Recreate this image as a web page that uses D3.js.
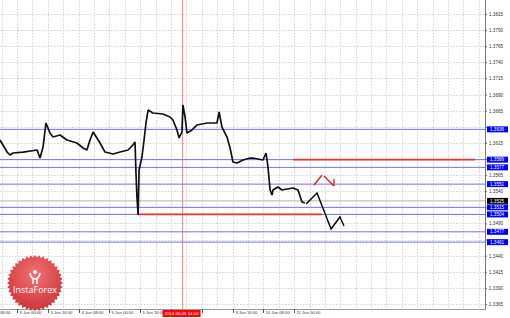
<!DOCTYPE html>
<html>
<head>
<meta charset="utf-8">
<script src="https://cdn.jsdelivr.net/npm/d3@7"></script>
<style>
  body { margin: 0; background: #fff; }
  svg { display: block; font-family: "Liberation Sans", Arial, sans-serif; }
</style>
</head>
<body>
<div id="chart"></div>
<script>
// H1 bars, index 0 = 2 Jun 08:00 (weekend hours skipped)
const priceIdx = [7.1, 10.8, 12.3, 13.9, 19.1, 26.4, 27.9, 29.5, 31.0, 33.1, 34.7, 38.3, 41.9, 47.1, 50.3, 52.3,
  53.9, 55.5, 57.5, 59.1, 61.7, 65.9, 69.5, 73.7, 76.2, 77.3, 77.8, 78.3, 78.9, 79.4, 80.9, 82.0, 83.0, 84.1,
  86.6, 91.8, 95.5, 97.0, 99.1, 100.2, 101.7, 102.2, 103.3, 104.3, 106.9, 109.5, 114.7, 119.9, 121.0, 122.5,
  125.1, 126.7, 128.2, 130.3, 133.4, 137.1, 138.6, 143.8, 145.4, 146.4, 147.5, 148.5, 149.0, 151.6, 153.7,
  156.3, 159.4, 162.0, 164.1, 165.6];
const priceVal = [1.36195, 1.36008, 1.35962, 1.35993, 1.36008, 1.36040, 1.35915, 1.36086, 1.36459, 1.36303,
  1.36241, 1.36272, 1.36195, 1.36148, 1.36071, 1.36040, 1.36195, 1.36319, 1.36226, 1.36148, 1.36008, 1.35977,
  1.36008, 1.36040, 1.36117, 1.36164, 1.35683, 1.35310, 1.35031, 1.35729, 1.35931, 1.36195, 1.36459, 1.36660,
  1.36614, 1.36598, 1.36552, 1.36505, 1.36350, 1.36226, 1.36319, 1.36738, 1.36552, 1.36303, 1.36350, 1.36428,
  1.36459, 1.36459, 1.36629, 1.36396, 1.36241, 1.36071, 1.35853, 1.35838, 1.35884, 1.35915, 1.35915, 1.35884,
  1.35993, 1.35776, 1.35419, 1.35341, 1.35419, 1.35465, 1.35419, 1.35434, 1.35450, 1.35419, 1.35233, 1.35217];

// forecast paths drawn on the chart
const forecastIdx = [166.2, 171.9, 179.2, 183.8, 185.9];
const forecastVal = [1.35202, 1.35372, 1.34814, 1.35000, 1.34860];
const redMarkIdx = [170.3, 174.5];
const redMarkVal = [1.35496, 1.35652];
const redMark2Idx = [175.5, 180.7];
const redMark2Val = [1.35636, 1.35481];

// horizontal levels
const blueLevels = [1.3636, 1.3589, 1.3577, 1.3551, 1.3515, 1.3504, 1.3477, 1.3461];
const grayLevels = [1.3525];
const redLevels = [1.3589, 1.3504];
const redFrom = [159.4, 78.9];
const redTo = [254.0, 174.5];

// axes
const priceTicks = [1.3815, 1.3790, 1.3765, 1.3740, 1.3715, 1.3690, 1.3665, 1.3640, 1.3615, 1.3590, 1.3565,
  1.3540, 1.3515, 1.3490, 1.3465, 1.3440, 1.3415, 1.3390, 1.3365];
const timeIdx = [0, 16, 32, 48, 64, 80, 96, 112, 128, 144, 160];
const timeLabels = ["2 Jun 08:00", "3 Jun 00:00", "3 Jun 16:00", "4 Jun 08:00", "5 Jun 00:00", "5 Jun 16:00",
  "6 Jun 08:00", "9 Jun 00:00", "9 Jun 16:00", "10 Jun 08:00", "11 Jun 00:00"];
const gridIdx = d3.range(0, 264, 8);
const markerIdx = 102;
const markerLabel = "2014.06.06 14:00";

const W = 510, H = 318;
const plotR = 485, plotB = 309;

const svg = d3.select("#chart").append("svg")
    .attr("width", W)
    .attr("height", H);

const x = d3.scaleLinear().domain([0, 260]).range([-13.7, -13.7 + 260 * 1.924]);
const y = d3.scaleLinear().domain([1.3365, 1.3815]).range([304, 14]);

svg.append("defs").append("clipPath").attr("id", "plot")
  .append("rect").attr("x", 0).attr("y", 0).attr("width", plotR).attr("height", plotB);

const g = svg.append("g").attr("clip-path", "url(#plot)");

// grid
g.selectAll(".hg").data(priceTicks).enter().append("line")
    .attr("x1", 0).attr("x2", plotR)
    .attr("y1", d => Math.round(y(d)) + 0.5).attr("y2", d => Math.round(y(d)) + 0.5)
    .attr("stroke", "#d4d4d4").attr("stroke-dasharray", "1.5,1.5");
g.selectAll(".vg").data(gridIdx).enter().append("line")
    .attr("y1", 0).attr("y2", plotB)
    .attr("x1", d => Math.round(x(d)) + 0.5).attr("x2", d => Math.round(x(d)) + 0.5)
    .attr("stroke", "#d4d4d4").attr("stroke-dasharray", "1.5,1.5");

// marker line
g.append("line")
    .attr("x1", x(markerIdx)).attr("x2", x(markerIdx))
    .attr("y1", 0).attr("y2", plotB)
    .attr("stroke", "#ff9090").attr("stroke-width", 1.2);

// levels
g.selectAll(".gl").data(grayLevels).enter().append("line")
    .attr("x1", 0).attr("x2", plotR)
    .attr("y1", d => y(d)).attr("y2", d => y(d))
    .attr("stroke", "#b4b4b4").attr("stroke-width", 1);
g.selectAll(".bl").data(blueLevels).enter().append("line")
    .attr("x1", 0).attr("x2", plotR)
    .attr("y1", d => y(d)).attr("y2", d => y(d))
    .attr("stroke", "#7070f0").attr("stroke-width", 1);
g.selectAll(".rl").data(redLevels).enter().append("line")
    .attr("x1", (d, i) => x(redFrom[i])).attr("x2", (d, i) => x(redTo[i]))
    .attr("y1", d => y(d)).attr("y2", d => y(d))
    .attr("stroke", "#e03838").attr("stroke-width", 1.8);

// price
const line = d3.line().x(d => x(d[0])).y(d => y(d[1]));
g.append("path")
    .datum(priceIdx.map((d, i) => [d, priceVal[i]]))
    .attr("fill", "none")
    .attr("stroke", "#111")
    .attr("stroke-width", 1.7)
    .attr("stroke-linejoin", "bevel")
    .attr("d", line);

// forecast
g.append("path")
    .datum(forecastIdx.map((d, i) => [d, forecastVal[i]]))
    .attr("fill", "none").attr("stroke", "#000").attr("stroke-width", 1.4)
    .attr("d", line);
[[redMarkIdx, redMarkVal], [redMark2Idx, redMark2Val]].forEach(([xs, vs]) => {
  g.append("path")
      .datum(xs.map((d, i) => [d, vs[i]]))
      .attr("fill", "none").attr("stroke", "#e02020").attr("stroke-width", 1.4)
      .attr("d", line);
});
// arrow tip on the red mark
const tipX = x(redMark2Idx[1]), tipY = y(redMark2Val[1]);
g.append("path")
    .attr("d", `M${tipX},${tipY} L${tipX},${tipY - 7}`)
    .attr("stroke", "#e02020").attr("stroke-width", 1.4).attr("fill", "none");

// frame
svg.append("line").attr("x1", plotR + 0.5).attr("x2", plotR + 0.5).attr("y1", 0).attr("y2", plotB + 0.5)
    .attr("stroke", "#777");
svg.append("line").attr("x1", 0).attr("x2", plotR + 0.5).attr("y1", plotB + 0.5).attr("y2", plotB + 0.5)
    .attr("stroke", "#999");

// right axis (tick text hidden where a level tag sits on top)
const tagged = blueLevels.concat(grayLevels);
const yAxis = svg.append("g")
    .attr("transform", `translate(${plotR},0)`)
    .call(d3.axisRight(y).tickValues(priceTicks).tickFormat(d3.format(".4f")).tickSize(2).tickPadding(2));
yAxis.select(".domain").remove();
yAxis.selectAll("line").attr("stroke", "#666");
yAxis.selectAll("text").attr("font-size", 4.6).attr("fill", "#333")
    .filter(d => tagged.some(v => Math.abs(y(v) - y(d)) < 6)).remove();

// highlighted level labels
const tags = blueLevels.map(v => ({ v, c: "#0000ff" })).concat(grayLevels.map(v => ({ v, c: "#000" })));
const tag = svg.selectAll(".tag").data(tags).enter().append("g")
    .attr("transform", d => `translate(${plotR + 2},${y(d.v)})`);
tag.append("rect").attr("x", 0).attr("y", -3).attr("width", 21).attr("height", 6).attr("fill", d => d.c);
tag.append("text").attr("x", 3).attr("y", 0).attr("dy", "0.35em")
    .attr("font-size", 4.6).attr("fill", "#fff")
    .text(d => d3.format(".4f")(d.v));

// bottom axis
const mx = x(markerIdx);
const xAxis = svg.append("g").attr("transform", `translate(0,${plotB})`);
timeIdx.forEach((t, i) => {
  const px = Math.round(x(t)) + 0.5;
  xAxis.append("line").attr("x1", px).attr("x2", px).attr("y1", 0).attr("y2", 4).attr("stroke", "#555");
  if (Math.abs(px - mx) < 22) return; // covered by the marker's date box
  xAxis.append("text").attr("x", px + 2).attr("y", 5.3)
      .attr("font-size", 4.2).attr("fill", "#333")
      .text(timeLabels[i]);
});
xAxis.append("rect").attr("x", mx - 20).attr("y", 1).attr("width", 38).attr("height", 7).attr("fill", "#ff0000");
xAxis.append("text").attr("x", mx - 1).attr("y", 6.2).attr("text-anchor", "middle")
    .attr("font-size", 4.4).attr("fill", "#fff").text(markerLabel);

// InstaForex badge
const cx = 35, cy = 283, rOut = 28, rIn = 25.5, teeth = 40;
const badgePts = d3.range(teeth * 2).map(k => {
  const a = k * Math.PI / teeth;
  const r = k % 2 ? rIn : rOut;
  return [cx + r * Math.cos(a), cy + r * Math.sin(a)];
});
const grad = svg.select("defs").append("radialGradient").attr("id", "badge")
    .attr("cx", "50%").attr("cy", "35%").attr("r", "65%");
grad.append("stop").attr("offset", "0%").attr("stop-color", "#f26a6a");
grad.append("stop").attr("offset", "100%").attr("stop-color", "#c92a30");
svg.append("polygon").attr("points", badgePts.map(p => p.join(",")).join(" "))
    .attr("fill", "url(#badge)").attr("opacity", 0.95);
svg.append("circle").attr("cx", cx).attr("cy", cy - 11).attr("r", 2).attr("fill", "#fff");
svg.append("path")
    .attr("d", `M${cx - 5},${cy - 10} Q${cx - 4},${cy - 4} ${cx},${cy - 4} Q${cx + 4},${cy - 4} ${cx + 5},${cy - 10}`)
    .attr("fill", "none").attr("stroke", "#fff").attr("stroke-width", 1.6);
svg.append("path")
    .attr("d", `M${cx - 2},${cy - 4} L${cx - 2},${cy + 1} M${cx + 2},${cy - 4} L${cx + 2},${cy + 1}`)
    .attr("stroke", "#fff").attr("stroke-width", 1.6);
svg.append("text").attr("x", cx).attr("y", cy + 10).attr("text-anchor", "middle")
    .attr("font-size", 9).attr("fill", "#fff").attr("font-family", "'Open Sans', sans-serif")
    .text("InstaForex");
</script>
</body>
</html>
